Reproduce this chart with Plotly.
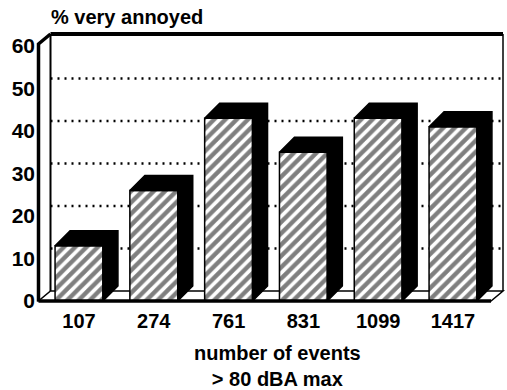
import plotly.graph_objects as go

# ---- data ----
categories = ["107", "274", "761", "831", "1099", "1417"]
values = [13, 26, 43, 35, 43, 41]
y_ticks = [0, 10, 20, 30, 40, 50, 60]
grid_values = [10, 20, 30, 40, 50]
y_title = "% very annoyed"
x_title = "number of events<br>> 80 dBA max"

# ---- layout geometry (pixels) ----
W, H = 507, 390
PL, PR, PT, PB = 36, 507, 26, 306          # plot area edges
CAT0, STEP = 79.0, 74.8                    # px of first category, px per category
Y0, PXY = 301.0, 4.25                      # px of y=0, px per y unit
FL_PX, BR_PX, TOP_PX = 38.5, 503.0, 34.0   # frame: front-left, back-right, top
DEPTH_X, DEPTH_Y = 12.0, 10.0              # wall depth (px)
BAR_DX, BAR_DY = 15.0, 15.0                # bar extrusion depth (px)
BAR_W = 0.64

def ux(px):
    return (px - CAT0) / STEP

def uy(py):
    return (Y0 - py) / PXY

XMIN, XMAX = ux(PL), ux(PR)
YMIN, YMAX = uy(PB), uy(PT)
fl, br, top = ux(FL_PX), ux(BR_PX), uy(TOP_PX)
dx, dy = DEPTH_X / STEP, DEPTH_Y / PXY
bdx, bdy = BAR_DX / STEP, BAR_DY / PXY

pos = list(range(len(categories)))

fig = go.Figure()

# extrusion (black top + side) of each bar, computed from the values
ex, ey = [], []
for p, v in zip(pos, values):
    l, r = p - BAR_W / 2, p + BAR_W / 2
    ex += [l, l + bdx, r + bdx, r + bdx, r, r, l, None]
    ey += [v, v + bdy, v + bdy, bdy, 0, v, v, None]
fig.add_trace(go.Scatter(x=ex, y=ey, mode="lines", fill="toself",
                         fillcolor="black", line=dict(color="black", width=1.5),
                         hoverinfo="skip", showlegend=False))

# hatched front faces
fig.add_trace(go.Bar(
    x=pos, y=values, width=BAR_W,
    marker=dict(color="white",
                pattern=dict(shape="/", fgcolor="black", bgcolor="white",
                             size=8, solidity=0.55),
                line=dict(color="black", width=1.5)),
    hoverinfo="skip", showlegend=False))

shapes = []
# floor
shapes.append(dict(type="path", xref="x", yref="y", layer="below",
                   path=f"M{fl},0 L{br - dx},0 L{br},{dy} L{fl + dx},{dy} Z",
                   fillcolor="white", line=dict(color="black", width=1.5)))
# back-wall dotted gridlines
for g in grid_values:
    shapes.append(dict(type="line", xref="x", yref="y", layer="below",
                       x0=fl + dx, x1=br, y0=g + dy, y1=g + dy,
                       line=dict(color="black", width=2.5, dash="2px,5px")))
# back wall edges
shapes.append(dict(type="line", xref="x", yref="y", x0=fl + dx, x1=br, y0=top, y1=top,
                   line=dict(color="black", width=4)))
shapes.append(dict(type="line", xref="x", yref="y", x0=fl + dx, x1=fl + dx, y0=dy, y1=top,
                   line=dict(color="black", width=2)))
shapes.append(dict(type="line", xref="x", yref="y", x0=br, x1=br, y0=dy, y1=top,
                   line=dict(color="black", width=1.5)))
# front-left edge and its link to the back top corner
shapes.append(dict(type="path", xref="x", yref="y",
                   path=f"M{fl},0 L{fl},{top - dy} L{fl + dx},{top}",
                   line=dict(color="black", width=3.5)))
# front baseline
shapes.append(dict(type="line", xref="x", yref="y", x0=fl, x1=br - dx, y0=0, y1=0,
                   line=dict(color="black", width=3.5)))

FAM = "Liberation Sans, Arial, sans-serif"
font = dict(family=FAM, size=20, color="black", weight="bold")
xtick_font = dict(family=FAM, size=20, color="black", weight="bold")
ytick_font = dict(family=FAM, size=21, color="black", weight="bold")

fig.update_layout(
    width=W, height=H,
    margin=dict(l=PL, r=W - PR, t=PT, b=H - PB),
    paper_bgcolor="white", plot_bgcolor="white",
    font=font,
    barmode="overlay",
    shapes=shapes,
    xaxis=dict(range=[XMIN, XMAX], tickmode="array", tickvals=pos, ticktext=categories,
               showgrid=False, zeroline=False, showline=False, ticks="",
               tickfont=xtick_font, ticklabelstandoff=1),
    yaxis=dict(range=[YMIN, YMAX], tickmode="array", tickvals=y_ticks,
               showgrid=False, zeroline=False, showline=False, ticks="",
               tickfont=ytick_font, ticklabelstandoff=0),
    annotations=[
        dict(text=y_title, xref="paper", yref="paper", x=(49 - PL) / (PR - PL),
             y=1 + (PT - 17) / (PB - PT), xanchor="left", yanchor="middle",
             showarrow=False, font=font),
        dict(text=x_title, xref="paper", yref="paper", x=(277 - PL) / (PR - PL),
             y=-(340 - PB) / (PB - PT), xanchor="center", yanchor="top",
             showarrow=False, font=font),
    ],
)

# remove the browser's default page margin so the figure sits at (0, 0)
fig.write_html("out.html", config={"displayModeBar": False},
               post_script="document.body.style.margin='0';")
